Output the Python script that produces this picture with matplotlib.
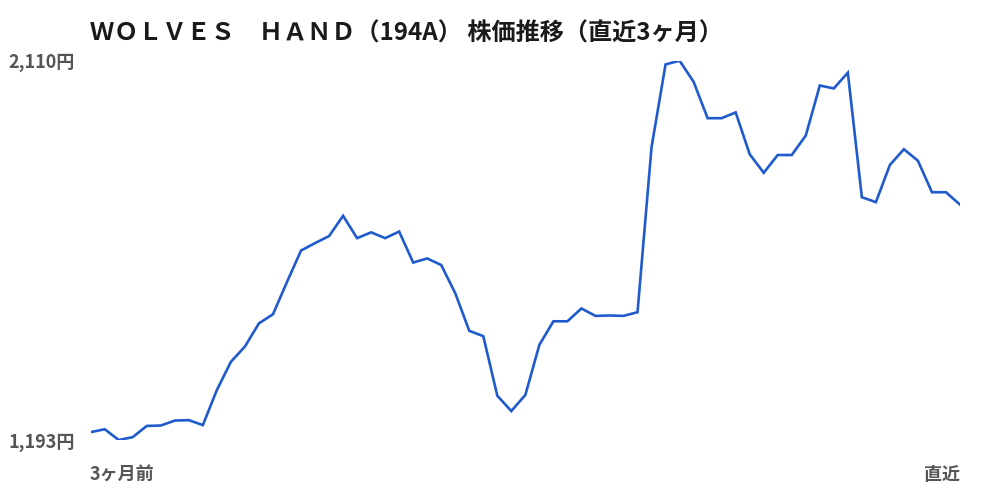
import numpy as np
import matplotlib
matplotlib.use("Agg")
import matplotlib.pyplot as plt

plt.rcParams['font.family'] = ['Noto Sans CJK JP', 'DejaVu Sans']

title = "ＷＯＬＶＥＳ　ＨＡＮＤ（194A） 株価推移（直近3ヶ月）"
start_label = "3ヶ月前"
end_label = "直近"

# closing prices (yen), oldest -> latest
prices = [1212, 1219, 1193, 1200, 1227, 1228, 1240, 1241, 1229, 1314,
          1382, 1419, 1475, 1497, 1575, 1651, 1669, 1686, 1735, 1681,
          1695, 1681, 1697, 1622, 1632, 1616, 1548, 1457, 1444, 1300,
          1263, 1302, 1423, 1480, 1480, 1511, 1493, 1494, 1493, 1502,
          1901, 2101, 2110, 2059, 1971, 1971, 1985, 1884, 1839, 1882,
          1882, 1929, 2050, 2043, 2081, 1780, 1768, 1858, 1896, 1868,
          1792, 1792, 1762]

ymax = max(prices)
ymin = min(prices)

fig = plt.figure(figsize=(10, 5), dpi=100)
ax = fig.add_axes([0.0907, 0.12, 0.8693, 0.7586])
x = np.arange(len(prices))
ax.plot(x, prices, color='#1f5bcc', lw=1.9, solid_joinstyle='miter')
ax.set_xlim(0, len(prices) - 1)
ax.set_ylim(ymin, ymax)
ax.axis('off')

grey = '#555555'
fig.text(0.075, 1 - 62 / 500, f"{ymax:,}円", ha='right', va='center',
         fontsize=13, fontweight='bold', color=grey)
fig.text(0.075, 1 - 442 / 500, f"{ymin:,}円", ha='right', va='center',
         fontsize=13, fontweight='bold', color=grey)
fig.text(0.0895, 1 - 475 / 500, start_label, ha='left', va='center',
         fontsize=13, fontweight='bold', color=grey)
fig.text(0.96, 1 - 475 / 500, end_label, ha='right', va='center',
         fontsize=13, fontweight='bold', color=grey)

#title
fig.text(0.09, 1 - 34 / 500, title, ha='left', va='center',
         fontsize=17.4, fontweight='bold', color='#1a1a1a')

fig.savefig('out.png', dpi=100, facecolor='white')
